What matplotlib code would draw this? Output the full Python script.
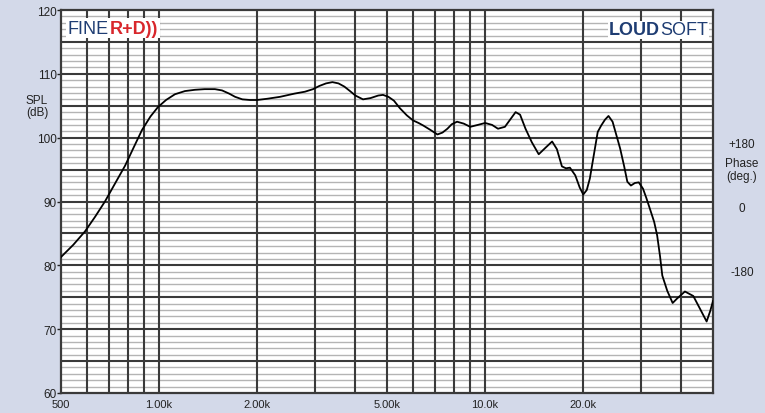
import matplotlib.pyplot as plt
from matplotlib.ticker import FixedLocator, NullFormatter

plt.rcParams['font.family'] = ['Liberation Sans', 'DejaVu Sans']

# frequency response (Hz, dB SPL)
freq = [500, 545, 592, 636, 682, 732, 786, 836, 886, 940, 992, 1050, 1118,
        1200, 1288, 1380, 1483, 1560, 1640, 1710, 1800, 1900, 1998, 2150,
        2350, 2600, 2800, 2965, 3100, 3250, 3400, 3550, 3700, 3850, 4000,
        4220, 4450, 4700, 4860, 5050, 5250, 5480, 5750, 6010, 6250, 6460,
        6800, 7140, 7400, 7660, 7900, 8200, 8600, 9000, 9500, 10000, 10500,
        10950, 11500, 12000, 12400, 12800, 13300, 13900, 14600, 15300, 16050,
        16600, 17200, 17700, 18200, 18900, 19500, 20000, 20500, 20950, 21500,
        22150, 22700, 23300, 23900, 24600, 25300, 25950, 26700, 27300, 28000,
        28800, 29600, 30500, 31200, 32000, 33000, 33700, 34400, 34950, 36200,
        37600, 38800, 41000, 43500, 45500, 47800, 49000, 50000]
spl = [81.3, 83.2, 85.3, 87.6, 90.0, 92.8, 95.6, 98.5, 101.2, 103.3, 104.8,
       105.9, 106.8, 107.3, 107.5, 107.6, 107.6, 107.4, 106.9, 106.4, 106.0,
       105.9, 105.9, 106.1, 106.4, 106.9, 107.2, 107.6, 108.1, 108.5, 108.7,
       108.5, 108.0, 107.3, 106.6, 106.0, 106.2, 106.6, 106.7, 106.4, 105.8,
       104.6, 103.5, 102.7, 102.3, 101.9, 101.2, 100.5, 100.8, 101.4, 102.1,
       102.5, 102.2, 101.7, 102.0, 102.3, 102.0, 101.4, 101.7, 103.0, 104.0,
       103.6, 101.4, 99.3, 97.4, 98.4, 99.4, 98.2, 95.5, 95.2, 95.3, 94.1,
       92.2, 91.1, 91.8, 93.6, 97.0, 100.9, 101.9, 102.8, 103.4, 102.5, 100.3,
       98.3, 95.5, 93.1, 92.5, 92.9, 93.0, 92.0, 90.6, 88.9, 86.8, 84.7, 81.4,
       78.4, 76.0, 74.1, 74.8, 75.9, 75.2, 73.3, 71.2, 72.8, 74.4]

xmajor = [600, 700, 800, 900, 1000, 2000, 3000, 4000, 5000, 6000,
          7000, 8000, 9000, 10000, 20000, 30000, 40000]
xticks = [500, 1000, 2000, 5000, 10000, 20000]
xlabels = ['500', '1.00k', '2.00k', '5.00k', '10.0k', '20.0k']
yticks = [60, 70, 80, 90, 100, 110, 120]

bg = '#d3d9e9'
fig = plt.figure(figsize=(7.65, 4.14), dpi=100, facecolor=bg)
W, H = 765, 414
ax = fig.add_axes([61 / W, (H - 394) / H, (713 - 61) / W, (394 - 11) / H])
ax.set_facecolor('white')
ax.set_xscale('log')
ax.set_xlim(500, 50000)
ax.set_ylim(60, 120)

# grid: light 1 dB lines, dark 5 dB lines and dark frequency lines
for v in range(61, 120):
    if v % 5:
        ax.axhline(v, color='#b4b4b4', lw=1.0, zorder=1)
for v in range(65, 120, 5):
    ax.axhline(v, color='#3a3a3a', lw=1.5, zorder=2)
for f in xmajor:
    ax.axvline(f, color='#3a3a3a', lw=1.5, zorder=2)

ax.plot(freq, spl, color='black', lw=1.3, zorder=5)

for s in ax.spines.values():
    s.set_color('#3a3a3a')
    s.set_linewidth(1.6)

ax.xaxis.set_major_locator(FixedLocator(xticks))
ax.set_xticklabels(xlabels)
ax.xaxis.set_minor_formatter(NullFormatter())
ax.xaxis.set_minor_locator(FixedLocator([]))
ax.tick_params(axis='x', length=0, pad=4.5, labelsize=8, colors='#222222')
ax.set_yticks(yticks)
ax.tick_params(axis='y', length=3, width=1, pad=0, labelsize=8.5,
               colors='#222222')

# axis captions
fig.text(37 / W, 1 - 101 / H, 'SPL', ha='center', va='center', fontsize=8.5,
         color='#222222')
fig.text(37 / W, 1 - 113 / H, '(dB)', ha='center', va='center', fontsize=8.5,
         color='#222222')
phase = [('+180', 145), ('Phase', 164), ('(deg.)', 177), ('0', 209), ('-180', 273)]
for txt, yp in phase:
    fig.text(742 / W, 1 - yp / H, txt, ha='center', va='center', fontsize=8.5,
             color='#222222')

# logos
t = ax.text(0.01, 0.975, 'FINE', transform=ax.transAxes, ha='left', va='top',
            fontsize=13, color='#1f3d73', zorder=6,
            bbox=dict(facecolor='white', edgecolor='none', pad=1))
fig.canvas.draw()
bb = t.get_window_extent().transformed(ax.transAxes.inverted())
ax.text(bb.x1 + 0.002, 0.975, 'R+D))', transform=ax.transAxes, ha='left',
        va='top', fontsize=13, color='#d8262b', fontweight='bold', zorder=6,
        bbox=dict(facecolor='white', edgecolor='none', pad=1))

t2 = ax.text(0.992, 0.97, 'SOFT', transform=ax.transAxes, ha='right', va='top',
             fontsize=13, color='#1f3d73', zorder=6,
             bbox=dict(facecolor='white', edgecolor='none', pad=0.5))
fig.canvas.draw()
bb2 = t2.get_window_extent().transformed(ax.transAxes.inverted())
ax.text(bb2.x0, 0.97, 'LOUD', transform=ax.transAxes, ha='right', va='top',
        fontsize=13, color='#1f3d73', fontweight='bold', zorder=6,
        bbox=dict(facecolor='white', edgecolor='none', pad=0.5))

fig.savefig('out.png', dpi=100, facecolor=bg)
